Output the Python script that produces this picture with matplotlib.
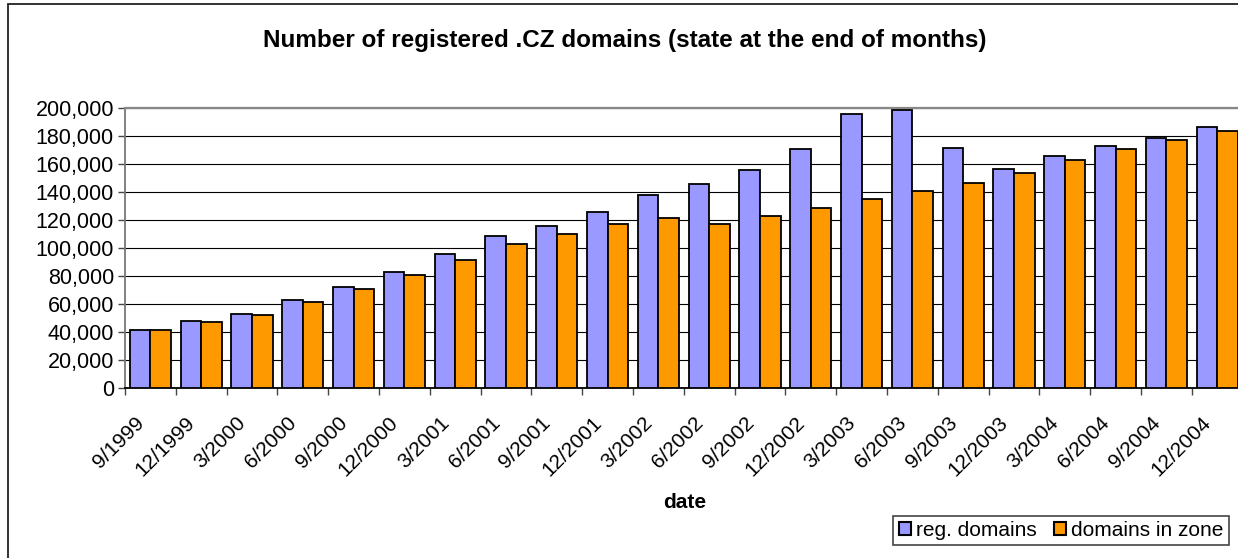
import matplotlib
matplotlib.use("Agg")
import matplotlib.pyplot as plt
import matplotlib.transforms as mtransforms
from matplotlib.patches import Patch, Rectangle
from matplotlib.ticker import FuncFormatter
import numpy as np

plt.rcParams['font.family'] = ['Liberation Sans', 'DejaVu Sans']

categories = ["9/1999", "12/1999", "3/2000", "6/2000", "9/2000", "12/2000",
              "3/2001", "6/2001", "9/2001", "12/2001", "3/2002", "6/2002",
              "9/2002", "12/2002", "3/2003", "6/2003", "9/2003", "12/2003",
              "3/2004", "6/2004", "9/2004", "12/2004"]
reg_domains = [41600, 48000, 53000, 63000, 71900, 82800, 95900, 108300, 115900,
               125900, 138100, 145700, 155700, 170900, 195700, 198300, 171600,
               156400, 165500, 172800, 178800, 186400]
zone_domains = [41200, 47100, 52100, 61600, 70900, 80400, 91600, 102800, 110000,
                117100, 121100, 117400, 122600, 128300, 135000, 140900, 146400,
                153600, 162800, 170500, 176900, 183600]
y_ticks = [0, 20000, 40000, 60000, 80000, 100000, 120000, 140000, 160000, 180000, 200000]

W, H = 1238, 558
fig = plt.figure(figsize=(W / 100, H / 100), dpi=100)
fig.patch.set_facecolor('white')

# chart area border (extends beyond the right/bottom edge)
fig.add_artist(Rectangle((8 / W, -0.2), 1.5, 1.2 - 4 / H, transform=fig.transFigure,
                         fill=False, edgecolor='#222222', linewidth=1.3))

left, top, bottom = 125, 108, 388
cat_w = 50.8
n = len(categories)
ax = fig.add_axes([left / W, 1 - bottom / H, n * cat_w / W, (bottom - top) / H])

x = np.arange(n)
bw = 0.405
ax.bar(x - bw / 2, reg_domains, width=bw, color='#9999FF', edgecolor='black',
       linewidth=1.3, zorder=3, label='reg. domains')
ax.bar(x + bw / 2, zone_domains, width=bw, color='#FF9900', edgecolor='black',
       linewidth=1.3, zorder=3, label='domains in zone')

ax.set_xlim(-0.5, n - 0.5)
ax.set_ylim(0, 200000)
ax.set_yticks(y_ticks)
ax.yaxis.set_major_formatter(FuncFormatter(lambda v, p: f"{int(v):,}"))
ax.yaxis.grid(True, color='black', linewidth=0.8)
ax.set_axisbelow(True)

ax.spines['top'].set_color('#888888')
ax.spines['top'].set_linewidth(1.6)
ax.spines['left'].set_color('#777777')
ax.spines['left'].set_linewidth(1.3)
ax.spines['bottom'].set_color('black')
ax.spines['bottom'].set_linewidth(1.3)
ax.spines['right'].set_visible(False)

ax.tick_params(axis='y', length=5, width=1, color='#444444', labelsize=15.5, pad=3)
ax.set_xticks(x)
ax.set_xticklabels(categories, rotation=45, ha='right', va='center',
                   rotation_mode='anchor', fontsize=15)
ax.tick_params(axis='x', which='major', length=0, pad=23)
ax.set_xticks(np.arange(-0.5, n, 1), minor=True)
ax.tick_params(axis='x', which='minor', length=5, width=1, color='#444444')

offset = mtransforms.ScaledTranslation(-9 / 100, 0, fig.dpi_scale_trans)
for lbl in ax.get_xticklabels():
    lbl.set_transform(lbl.get_transform() + offset)

fig.text(625 / W, 1 - 40 / H, "Number of registered .CZ domains (state at the end of months)",
         ha='center', va='center', fontsize=17.5, fontweight='bold')
fig.text(685 / W, 1 - 503 / H, "date", ha='center', va='center', fontsize=15,
         fontweight='bold')

handles = [Patch(facecolor='#9999FF', edgecolor='black', linewidth=1.5, label='reg. domains'),
           Patch(facecolor='#FF9900', edgecolor='black', linewidth=1.5, label='domains in zone')]
leg = fig.legend(handles=handles, loc='center right',
                 bbox_to_anchor=(1229 / W, 1 - 530.5 / H), ncol=2, fontsize=15,
                 handlelength=0.6, handleheight=0.6, handletextpad=0.25,
                 columnspacing=0.8, borderpad=0.25, fancybox=False, framealpha=1,
                 edgecolor='#444444', borderaxespad=0)
leg.get_frame().set_linewidth(1.2)

fig.savefig("out.png", dpi=100)
